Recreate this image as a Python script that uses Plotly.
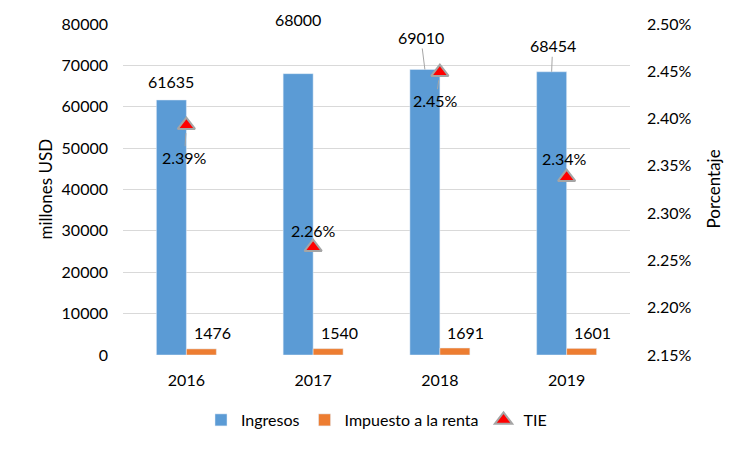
import plotly.graph_objects as go

years = ["2016", "2017", "2018", "2019"]
ingresos = [61635, 68000, 69010, 68454]
impuesto = [1476, 1540, 1691, 1601]
tie = [2.393, 2.264, 2.449, 2.338]  # percent

FONT = "Lato"
FS = 16
BLUE = "#5B9BD5"
ORANGE = "#ED7D31"

# page body has an 8px margin; figure sized so it fills the 752x452 window
W, H = 744, 444
L, R, T, B = 115, 122, 16, 97
PW, PH = W - L - R, H - T - B

fig = go.Figure()
fig.add_trace(go.Bar(x=years, y=ingresos, name="Ingresos", marker_color=BLUE))
fig.add_trace(go.Bar(x=years, y=impuesto, name="Impuesto a la renta", marker_color=ORANGE))
fig.add_trace(go.Scatter(x=years, y=tie, name="TIE", yaxis="y2", mode="markers",
                         marker=dict(symbol="triangle-up", size=15, color="#FF0000",
                                     line=dict(color="#A5A5A5", width=2))))

ann = []
ing_off = [(0, -18, False), (0, -54, False), (-4, -32, True), (1, -26, True)]
for i, (v, (ax, ay, arr)) in enumerate(zip(ingresos, ing_off)):
    if arr:
        ann.append(dict(x=i, y=v, xref="x", yref="y", text=str(v), xshift=-15,
                        showarrow=True, arrowhead=0, arrowwidth=1, arrowcolor="#A6A6A6",
                        ax=ax, ay=ay, standoff=0, font=dict(size=FS, color="#000")))
    else:
        ann.append(dict(x=i, y=v, xref="x", yref="y", text=str(v), xshift=-15 + ax,
                        yshift=-ay, showarrow=False, font=dict(size=FS, color="#000")))
for i, v in enumerate(impuesto):
    ann.append(dict(x=i, y=v, xref="x", yref="y", text=str(v), xshift=26,
                    yshift=16, showarrow=False, font=dict(size=FS, color="#000")))
tie_off = [(-2, 32, True), (0, -17, False), (-4, 28, True), (-2, -19, False)]
for i, (v, (ax, ay, arr)) in enumerate(zip(tie, tie_off)):
    txt = f"{v:.2f}%"
    if arr:
        ann.append(dict(x=i, y=v, xref="x", yref="y2", text=txt,
                        showarrow=True, arrowhead=0, arrowwidth=1, arrowcolor="#A6A6A6",
                        ax=ax, ay=ay, standoff=8, font=dict(size=FS, color="#000")))
    else:
        ann.append(dict(x=i, y=v, xref="x", yref="y2", text=txt, xshift=ax,
                        yshift=-ay, showarrow=False, font=dict(size=FS, color="#000")))

# axis titles
ann.append(dict(text="millones USD", xref="paper", yref="paper", x=(37 - L) / PW, y=0.5,
                xanchor="center", yanchor="middle",
                textangle=-90, showarrow=False, font=dict(size=FS + 1, color="#000")))
ann.append(dict(text="Porcentaje", xref="paper", yref="paper", x=(705 - L) / PW, y=0.5,
                xanchor="center", yanchor="middle",
                textangle=-90, showarrow=False, font=dict(size=FS + 1, color="#000")))

fig.update_layout(
    width=W, height=H,
    margin=dict(l=L, r=R, t=T, b=B),
    paper_bgcolor="white", plot_bgcolor="white",
    font=dict(family=FONT, size=FS, color="#000"),
    barmode="group", bargap=0.527, bargroupgap=0,
    showlegend=True,
    legend=dict(orientation="h", x=0.5, xanchor="center", y=-0.145, yanchor="top",
                font=dict(size=FS, color="#000"), itemwidth=30, tracegroupgap=0),
    xaxis=dict(type="category", range=[-0.5, len(years) - 0.5], showgrid=False,
               showline=False, ticks="", tickfont=dict(size=FS), automargin=False,
               ticklabelstandoff=14),
    yaxis=dict(range=[0, 80000], dtick=10000, tickformat="d", showgrid=True,
               gridcolor="#D9D9D9", zeroline=False, showline=False, ticks="",
               tickfont=dict(size=FS), automargin=False, ticklabelstandoff=14),
    yaxis2=dict(range=[2.15, 2.50], dtick=0.05, overlaying="y", side="right",
                showgrid=False, zeroline=False, showline=False, ticks="",
                tickformat=".2f", ticksuffix="%", tickfont=dict(size=FS),
                automargin=False, ticklabelstandoff=16),
    annotations=ann,
)

fig.write_html("out.html")
